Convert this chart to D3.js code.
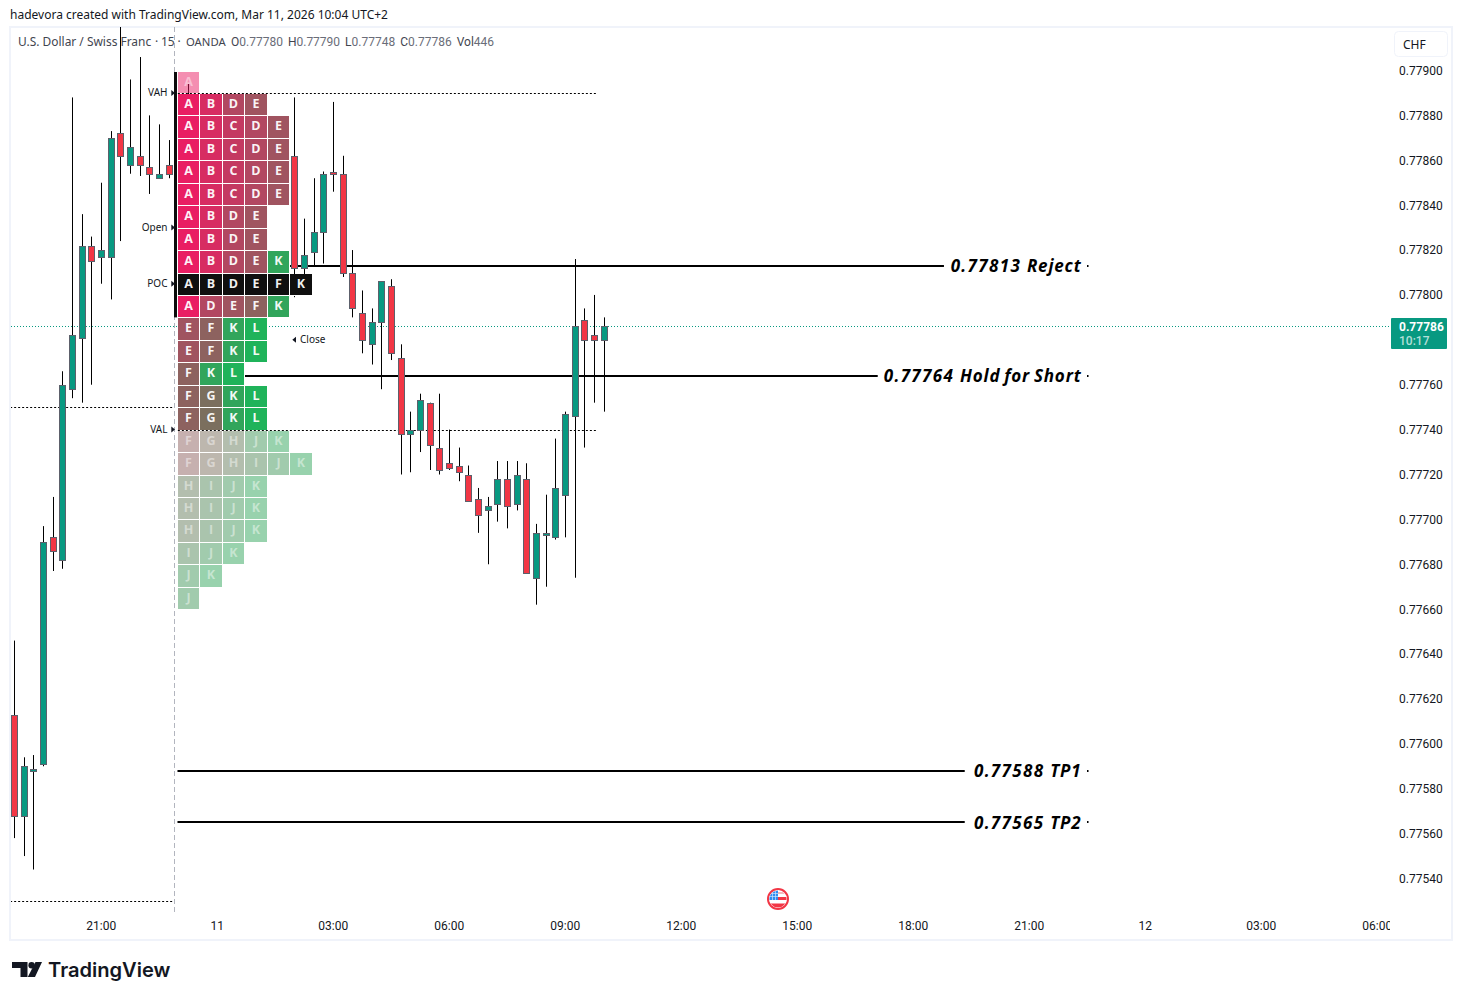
<!DOCTYPE html>
<html>
<head>
<meta charset="utf-8">
<title>USDCHF 15m with market profile</title>
<script src="https://cdn.jsdelivr.net/npm/d3@7/dist/d3.min.js"></script>
<style>
  html, body { margin: 0; padding: 0; background: #fff; }
  svg { display: block; }
  text { font-family: "Noto Sans", "Open Sans", sans-serif; }
</style>
</head>
<body>
<svg id="chart" width="1462" height="1000"></svg>
<script>
// 15-minute bars, one slot per bar; null marks bars concealed by the profile.
const _ = null;
const opens = [.77613,.77568,.77588,.77591,.77692,.77682,.77758,.77781,.77822,.77817,.77817,.77872,.77858,.77862,.77857,.77852,.77858,_,.77880,_,_,_,_,_,_,_,_,_,_,.77862,.77812,.77819,.77828,.77855,.77854,.77810,.77792,.77778,.77788,.77804,.77772,.77738,.77740,.77752,.77732,.77725,.77724,.77720,.77709,.77704,.77707,.77718,.77707,.77718,.77674,.77693,.77692,.77711,.77746,.77789,.77782,.77780];
const highs = [.77646,.77594,.77595,.77697,.77710,.77766,.77888,.77836,.77826,.77850,.77873,.77930,.77896,.77906,.77880,.77876,.77869,_,.77894,_,_,_,_,_,_,_,_,_,_,.77888,.77834,.77852,.77855,.77886,.77862,.77820,.77802,.77794,.77806,.77807,.77778,.77748,.77756,.77752,.77756,.77740,.77732,.77724,.77714,.77710,.77726,.77726,.77726,.77725,.77698,.77711,.77736,.77748,.77816,.77794,.77800,.77790];
const lows = [.77558,.77550,.77544,.77590,.77677,.77678,.77754,.77752,.77760,.77805,.77798,.77824,.77854,.77853,.77845,.77852,.77852,_,.77860,_,_,_,_,_,_,_,_,_,_,.77799,.77809,.77813,.77814,.77846,.77808,.77790,.77774,.77769,.77758,.77771,.77720,.77721,.77730,.77722,.77720,.77722,.77717,.77708,.77694,.77680,.77699,.77696,.77704,.77676,.77662,.77670,.77691,.77692,.77674,.77732,.77752,.77748];
const closes = [.77568,.77590,.77589,.77690,.77686,.77760,.77782,.77822,.77815,.77820,.77870,.77862,.77866,.77858,.77854,.77854,.77854,_,.77870,_,_,_,_,_,_,_,_,_,_,.77812,.77818,.77828,.77854,.77854,.77810,.77794,.77780,.77788,.77806,.77774,.77738,.77740,.77753,.77733,.77722,.77723,.77721,.77708,.77702,.77706,.77718,.77706,.77720,.77676,.77694,.77694,.77714,.77747,.77786,.77780,.77780,.77786];

// Time axis: a label every 12 bars.
const timeTickBars = [9,21,33,45,57,69,81,93,105,117,129,141];
const timeTickLabels = ["21:00","11","03:00","06:00","09:00","12:00","15:00","18:00","21:00","12","03:00","06:00"];

// Price axis.
const priceTicks = [.779,.7788,.7786,.7784,.7782,.778,.7778,.7776,.7774,.7772,.777,.7768,.7766,.7764,.7762,.776,.7758,.7756,.7754];
const lastPrice = .77786;
const countdown = "10:17";

// Market profile rows, listed from the highest price block to the lowest.
const profileLetters = "ABCDEFGHIJKL";
const profileRows = ["A","ABDE","ABCDE","ABCDE","ABCDE","ABCDE","ABDE","ABDE","ABDEK","ABDEFK","ADEFK","EFKL","EFKL","FKL","FGKL","FGKL","FGHJK","FGHIJK","HIJK","HIJK","HIJK","IJK","JK","J"];
const profileTopPrice = .779;
const profileStep = .0001;
const pocRow = 9;
const valueAreaFirstRow = 1;
const valueAreaLastRow = 15;

// Profile reference levels.
const levelNames = ["VAH","Open","POC","VAL"];
const levelPrices = [.7789,.7783,.77805,.7774];
const closeLevel = .7778;

// Value-area dotted lines: current session, then the previous one.
const dottedPrices = [.7789,.7774,.7775,.7753];
const dottedStarts = [16.9,16.9,-0.45,-0.45];
const dottedEnds = [60.2,60.2,16.4,16.4];

// Trade levels drawn by hand on the chart.
const tradePrices = [.77813,.77764,.77588,.77565];
const tradeNumbers = ["0.77813","0.77764","0.77588","0.77565"];
const tradeNotes = ["Reject","Hold for Short","TP1","TP2"];
const tradeStarts = [24,21,16.86,16.86];
const tradeEnds = [96.15,89.3,98.3,98.3];
const tradeTailBar = 110.95;
const sessionBar = 16.55;

const svg = d3.select("#chart");
const GREEN = "#089981", RED = "#f23645", EDGE = "#5d606b";
const AXIS_FONT = 'Roboto, sans-serif';

const x = d3.scaleLinear().domain([0, 141]).range([14.5, 1377.5]);
const y = d3.scaleLinear().domain([.779, .7754]).range([70.5, 878.5]);
const col = d3.scaleLinear().domain([0, 1]).range([177.8, 200.3]);
const letterColor = d3.scaleLinear().domain([0, 11]).range(["#e91e63", "#1fb35a"]).interpolate(d3.interpolateRgb);
const snap = v => Math.round(v) + 0.5;

// Outer frame of the chart card.
svg.append("rect").attr("x", 10).attr("y", 27).attr("width", 1442).attr("height", 913)
  .attr("fill", "#fff").attr("stroke", "#f0f3fa").attr("stroke-width", 2);

svg.append("defs").append("clipPath").attr("id", "pane")
  .append("rect").attr("x", 11).attr("y", 27).attr("width", 1379).attr("height", 912);
d3.select("defs").append("clipPath").attr("id", "timeStrip")
  .append("rect").attr("x", 11).attr("y", 912).attr("width", 1379).attr("height", 27);

const pane = svg.append("g").attr("clip-path", "url(#pane)");

// Session break.
pane.append("line")
  .attr("x1", snap(x(sessionBar))).attr("x2", snap(x(sessionBar)))
  .attr("y1", 27).attr("y2", 912)
  .attr("stroke", "#b2b5be").attr("stroke-dasharray", "5 3");

// Last-price line.
pane.append("line")
  .attr("x1", 11).attr("x2", 1389)
  .attr("y1", snap(y(lastPrice))).attr("y2", snap(y(lastPrice)))
  .attr("stroke", GREEN).attr("stroke-dasharray", "1 2");

// Value-area dotted lines.
pane.selectAll(".dotted").data(dottedPrices).join("line")
  .attr("class", "dotted")
  .attr("x1", (d, i) => x(dottedStarts[i])).attr("x2", (d, i) => x(dottedEnds[i]))
  .attr("y1", d => snap(y(d))).attr("y2", d => snap(y(d)))
  .attr("stroke", "#000").attr("stroke-dasharray", "2 2");

// Hand-drawn trade levels, with the leftover tail past the label.
pane.selectAll(".trade").data(tradePrices).join("line")
  .attr("class", "trade")
  .attr("x1", (d, i) => x(tradeStarts[i])).attr("x2", (d, i) => x(tradeEnds[i]))
  .attr("y1", d => Math.round(y(d))).attr("y2", d => Math.round(y(d)))
  .attr("stroke", "#000").attr("stroke-width", 2);
pane.selectAll(".tail").data(tradePrices).join("rect")
  .attr("class", "tail")
  .attr("x", x(tradeTailBar)).attr("width", 1.5)
  .attr("y", d => Math.round(y(d)) - 1).attr("height", 2)
  .attr("fill", "#000");
const tradeLabel = pane.selectAll(".tradeLabel").data(tradePrices).join("text")
  .attr("class", "tradeLabel")
  .attr("x", 1081.5).attr("y", d => y(d) + 0.3)
  .attr("dy", "0.36em").attr("text-anchor", "end")
  .attr("font-size", 17).attr("font-weight", 700).attr("font-style", "italic")
  .style("font-family", '"Open Sans", sans-serif')
  .attr("fill", "#000");
tradeLabel.append("tspan").attr("letter-spacing", 1.35).text((d, i) => tradeNumbers[i] + " ");
tradeLabel.append("tspan").attr("letter-spacing", 0.85).attr("word-spacing", -1.5).text((d, i) => tradeNotes[i]);

// Candles.
const bars = d3.range(opens.length).filter(i => opens[i] !== null);
const candle = pane.selectAll(".candle").data(bars).join("g").attr("class", "candle");
candle.append("line")
  .attr("x1", i => snap(x(i) - 0.5)).attr("x2", i => snap(x(i) - 0.5))
  .attr("y1", i => y(highs[i])).attr("y2", i => y(lows[i]))
  .attr("stroke", "#000");
candle.append("rect")
  .attr("x", i => Math.round(x(i) - 0.5) - 2.5)
  .attr("width", 6)
  .attr("y", i => snap(y(Math.max(opens[i], closes[i]))))
  .attr("height", i => Math.max(1, Math.round(y(Math.min(opens[i], closes[i]))) - Math.round(y(Math.max(opens[i], closes[i])))))
  .attr("fill", i => closes[i] >= opens[i] ? GREEN : RED)
  .attr("stroke", EDGE);

// Session span bar left of the profile.
svg.append("rect")
  .attr("x", 174).attr("width", 3)
  .attr("y", y(profileTopPrice) + 1.5)
  .attr("height", y(profileTopPrice - profileStep * 11) - y(profileTopPrice) - 1.5)
  .attr("fill", "#0b0b0b");

// Market profile blocks, on pixel edges so the white gaps stay crisp.
const rowTop = r => Math.round(y(profileTopPrice - profileStep * r) + 1);
const colLeft = c => Math.round(col(c));
const cells = profileRows.flatMap((row, r) => row.split("").map((letter, c) => ({ r, c, letter })));
const inValueArea = r => r >= valueAreaFirstRow && r <= valueAreaLastRow;
const cell = svg.selectAll(".tpo").data(cells).join("g").attr("class", "tpo");
// Solid rows mask everything behind them, including through the gaps.
cell.filter(d => inValueArea(d.r)).append("rect")
  .attr("x", d => colLeft(d.c)).attr("width", d => colLeft(d.c + 1) - colLeft(d.c))
  .attr("y", d => rowTop(d.r))
  .attr("height", d => rowTop(d.r + 1) - rowTop(d.r) - (d.r === valueAreaLastRow ? 1 : 0))
  .attr("fill", "#fff");
cell.append("rect")
  .attr("x", d => colLeft(d.c)).attr("width", d => colLeft(d.c + 1) - colLeft(d.c) - 1)
  .attr("y", d => rowTop(d.r)).attr("height", d => rowTop(d.r + 1) - rowTop(d.r) - 1)
  .attr("fill", d => d.r === pocRow ? "#0f0f0f" : letterColor(profileLetters.indexOf(d.letter)))
  .attr("fill-opacity", d => inValueArea(d.r) ? 1 : 0.5);
cell.append("text")
  .attr("x", d => (colLeft(d.c) + colLeft(d.c + 1) - 1) / 2)
  .attr("y", d => rowTop(d.r) + 9.9)
  .attr("dy", "0.36em").attr("text-anchor", "middle")
  .attr("font-size", 12.5).attr("font-weight", 700)
  .style("font-family", '"Open Sans", sans-serif')
  .attr("fill", "#fff")
  .attr("fill-opacity", d => inValueArea(d.r) ? 0.95 : 0.45)
  .text(d => d.letter);

// Profile level tags with their pointers.
svg.selectAll(".levelTag").data(levelNames).join("text")
  .attr("class", "levelTag")
  .attr("x", 167.5).attr("y", (d, i) => y(levelPrices[i]) - 0.5)
  .attr("dy", "0.36em").attr("text-anchor", "end")
  .attr("font-size", 10).attr("fill", "#131722")
  .text(d => d);
svg.selectAll(".levelArrow").data(levelPrices).join("path")
  .attr("class", "levelArrow")
  .attr("d", d => `M171.3 ${y(d) - 3}L175 ${y(d)}L171.3 ${y(d) + 3}Z`)
  .attr("fill", "#131722");
svg.append("path")
  .attr("d", `M296 ${y(closeLevel) - 3}L292.3 ${y(closeLevel)}L296 ${y(closeLevel) + 3}Z`)
  .attr("fill", "#131722");
svg.append("text").attr("x", 300).attr("y", y(closeLevel)).attr("dy", "0.36em")
  .attr("font-size", 10).attr("fill", "#131722").text("Close");

// Price axis.
const priceAxis = svg.append("g").attr("transform", "translate(1399,0)")
  .call(d3.axisRight(y).tickValues(priceTicks).tickFormat(d3.format(".5f")).tickSize(0).tickPadding(0));
priceAxis.select(".domain").remove();
priceAxis.selectAll("text")
  .attr("font-size", 12).attr("fill", "#131722")
  .style("font-family", AXIS_FONT);

// Time axis, cut off at the price scale.
const timeAxis = svg.append("g").attr("clip-path", "url(#timeStrip)").append("g")
  .attr("transform", "translate(-0.7,921)")
  .call(d3.axisBottom(x).tickValues(timeTickBars).tickFormat((d, i) => timeTickLabels[i]).tickSize(0).tickPadding(0));
timeAxis.select(".domain").remove();
timeAxis.selectAll("text")
  .attr("font-size", 12).attr("fill", "#131722")
  .style("font-family", AXIS_FONT);

// Last-price tag.
const tagY = Math.round(y(lastPrice));
svg.append("rect").attr("x", 1391).attr("y", tagY - 8).attr("width", 56).attr("height", 31)
  .attr("rx", 1).attr("fill", GREEN);
svg.append("text").attr("x", 1399).attr("y", tagY + 4.5)
  .attr("font-size", 12).attr("font-weight", 700).attr("fill", "#fff")
  .style("font-family", AXIS_FONT).text(d3.format(".5f")(lastPrice));
svg.append("text").attr("x", 1399).attr("y", tagY + 19)
  .attr("font-size", 12).attr("font-weight", 500).attr("fill", "#fff").attr("fill-opacity", 0.7)
  .style("font-family", AXIS_FONT).text(countdown);

// Currency button.
svg.append("rect").attr("x", 1394.5).attr("y", 31.5).attr("width", 53).attr("height", 25).attr("rx", 4)
  .attr("fill", "#fff").attr("stroke", "#f0f3fa");
svg.append("text").attr("x", 1403).attr("y", 49).attr("font-size", 12).attr("fill", "#131722").text("CHF");

// Caption above the card.
svg.append("text").attr("x", 10).attr("y", 19).attr("font-size", 12).attr("fill", "#131722")
  .text("hadevora created with TradingView.com, Mar 11, 2026 10:04 UTC+2");

// Legend line inside the pane: instrument name, interval and source.
const titleParts = ["U.S. Dollar / Swiss Franc", "·", "15", "·", "OANDA"];
const titleStarts = [18, 155, 161, 177.5, 186];
const titleSizes = [11.95, 12, 12, 12, 11.3];
svg.selectAll(".titlePart").data(titleParts).join("text")
  .attr("class", "titlePart")
  .attr("x", (d, i) => titleStarts[i]).attr("y", 46)
  .attr("font-size", (d, i) => titleSizes[i]).attr("fill", "#42454f")
  .text(d => d);
const legend = svg.append("text").attr("x", 231).attr("y", 46).attr("font-size", 12).attr("fill", "#42454f")
  .style("font-family", AXIS_FONT);
const ohlc = [["O", opens[61]], ["H", highs[61]], ["L", lows[61]], ["C", closes[61]]];
ohlc.forEach(([k, v], i) => {
  legend.append("tspan").attr("dx", i ? 5 : 0).text(k);
  legend.append("tspan").attr("fill", "#6a6d78").text(d3.format(".5f")(v));
});
legend.append("tspan").attr("dx", 5).text("Vol");
legend.append("tspan").attr("fill", "#6a6d78").text("446");

// US calendar-event badge on the time axis.
const badge = svg.append("g").attr("transform", "translate(778,899)");
badge.append("clipPath").attr("id", "badgeClip").append("circle").attr("r", 8.6);
badge.append("circle").attr("r", 10).attr("fill", "#fff").attr("stroke", RED).attr("stroke-width", 2);
const flag = badge.append("g").attr("clip-path", "url(#badgeClip)");
flag.append("rect").attr("x", -9).attr("y", -9).attr("width", 18).attr("height", 18).attr("fill", "#fff");
flag.append("rect").attr("x", -9).attr("y", -9).attr("width", 9).attr("height", 10).attr("fill", "#2f8cf0");
flag.append("rect").attr("x", 0).attr("y", -7).attr("width", 9).attr("height", 2).attr("fill", "#f5b8bd");
flag.append("rect").attr("x", 0).attr("y", -2).attr("width", 9).attr("height", 3).attr("fill", RED);
flag.append("rect").attr("x", -9).attr("y", 4.5).attr("width", 18).attr("height", 5).attr("fill", RED);
[-6, -3].forEach(gx => flag.append("rect").attr("x", gx).attr("y", -9).attr("width", 0.7).attr("height", 10).attr("fill", "#cfe4fb"));
[-6, -3].forEach(gy => flag.append("rect").attr("x", -9).attr("y", gy).attr("width", 9).attr("height", 0.7).attr("fill", "#cfe4fb"));

// Wordmark in the footer.
const logo = svg.append("g").attr("transform", "translate(12,962)");
logo.append("path").attr("d", "M0 0H15.5V15H8.5V6H0Z").attr("fill", "#131722");
logo.append("circle").attr("cx", 19.6).attr("cy", 3.2).attr("r", 3.2).attr("fill", "#131722");
logo.append("path").attr("d", "M23.5 0H30L23 15H15.8Z").attr("fill", "#131722");
svg.append("text").attr("x", 48).attr("y", 977)
  .attr("font-size", 20.1).attr("font-weight", 600).attr("fill", "#131722")
  .style("font-family", "Inter, sans-serif")
  .text("TradingView");
</script>
</body>
</html>
